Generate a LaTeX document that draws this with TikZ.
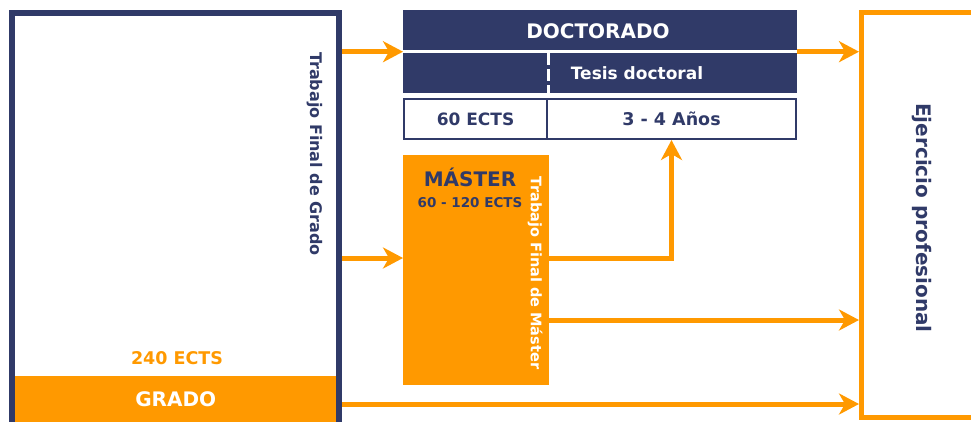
\documentclass[tikz,border=0pt]{standalone}
\usepackage{fontspec}
\setmainfont{DejaVu Sans}
\usetikzlibrary{arrows.meta}
\definecolor{navy}{RGB}{48,58,104}
\definecolor{orng}{RGB}{255,153,0}
\begin{document}
\begin{tikzpicture}[x=1pt,y=-1pt,
  conn/.style={draw=orng, line width=5pt, -{Stealth[length=20pt,width=21pt,inset=6pt]}},
  lbl/.style={font=\bfseries\fontsize{#1}{#1}\selectfont, inner sep=0pt},
  box/.style={rectangle, inner sep=0pt, anchor=north west},
]
\useasboundingbox (0,0) rectangle (971,421);
% Grado
\node[box, draw=navy, line width=6pt, minimum width=327pt, minimum height=420pt] (grado) at (9,10) {};
\node[box, fill=orng, minimum width=321pt, minimum height=46pt, text=white, font=\bfseries\fontsize{20}{20}\selectfont] (gradolbl) at (15,376) {GRADO};
\node[lbl=17.5, text=orng] (ects240) at (177,358) {240 ECTS};
\node[lbl=16, text=navy, rotate=-90] (tfg) at (315,154) {Trabajo Final de Grado};
% Doctorado
\node[box, fill=navy, minimum width=394pt, minimum height=83pt] (doc) at (403,10) {};
\draw[white, line width=3pt] (403,51) -- (797,51);
\draw[white, line width=3pt, dash pattern=on 12pt off 4pt] (548,53) -- (548,93);
\node[lbl=20, text=white] (doctxt) at (598,31) {DOCTORADO};
\node[lbl=17, text=white] (tesis) at (637,73) {Tesis doctoral};
\node[box, draw=navy, line width=2pt, minimum width=143pt, minimum height=40pt, text=navy, font=\bfseries\fontsize{17}{17}\selectfont] (ects60) at (403,98) {60 ECTS};
\node[box, draw=navy, line width=2pt, minimum width=249pt, minimum height=40pt, text=navy, font=\bfseries\fontsize{17.5}{17.5}\selectfont] (anos) at (546,98) {3 - 4 Años};
% Master
\node[box, fill=orng, minimum width=146pt, minimum height=230pt] (master) at (403,155) {};
\node[lbl=20, text=navy] (mastertxt) at (470,177) {MÁSTER};
\node[lbl=13.5, text=navy] (ectsm) at (470,203) {60 - 120 ECTS};
\node[lbl=14.5, text=white, rotate=-90] (tfm) at (535,273) {Trabajo Final de Máster};
% Ejercicio
\node[box, draw=orng, line width=5pt, minimum width=120pt, minimum height=405pt] (ejer) at (859,10) {};
\node[lbl=20, text=navy, rotate=-90] (ejertxt) at (922,218) {Ejercicio profesional};
% connectors
\coordinate (y1) at (0,258);
\coordinate (y2) at (0,320);
\coordinate (y3) at (0,404);
\draw[conn] (grado.east |- doc.west) -- (doc.west);
\draw[conn] (doc.east) -- (ejer.west |- doc.east);
\draw[conn] (grado.east |- y1) -- (master.west |- y1);
\draw[conn] (master.east |- y1) -| (anos.south);
\draw[conn] (master.east |- y2) -- (ejer.west |- y2);
\draw[conn] (grado.east |- y3) -- (ejer.west |- y3);
\end{tikzpicture}
\end{document}
